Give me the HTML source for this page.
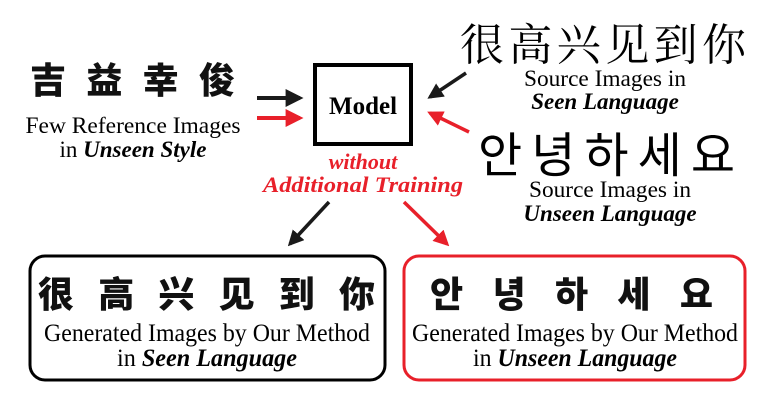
<!DOCTYPE html>
<html><head><meta charset="utf-8"><style>
html,body{margin:0;padding:0;background:#fff;width:774px;height:400px;overflow:hidden}
svg{display:block}
.t{font-family:"Liberation Serif",serif;fill:#000}
</style></head><body>
<svg width="774" height="400" viewBox="0 0 774 400" xmlns="http://www.w3.org/2000/svg">
<defs>
<marker id="ab" viewBox="0 0 10 10" refX="8" refY="5" markerWidth="4.5" markerHeight="4.5" orient="auto"><path d="M0,0L10,5L0,10z" fill="#1a1a1a"/></marker>
<marker id="ar" viewBox="0 0 10 10" refX="8" refY="5" markerWidth="4.5" markerHeight="4.5" orient="auto"><path d="M0,0L10,5L0,10z" fill="#e8202a"/></marker>
</defs>
<text x="30" y="93" textLength="205" lengthAdjust="spacing" font-family="'Noto Sans CJK SC','WenQuanYi Zen Hei',sans-serif" font-weight="900" font-size="36" fill="#111">吉益幸俊</text>
<text class="t" x="133" y="133" text-anchor="middle" font-size="23" textLength="215" lengthAdjust="spacingAndGlyphs">Few Reference Images</text>
<text class="t" x="133" y="157" text-anchor="middle" font-size="23">in <tspan font-weight="bold" font-style="italic">Unseen Style</tspan></text>
<line x1="257" y1="98" x2="300" y2="98" stroke="#1a1a1a" stroke-width="4" marker-end="url(#ab)"/>
<line x1="257" y1="118" x2="300" y2="118" stroke="#e8202a" stroke-width="4" marker-end="url(#ar)"/>
<rect x="315" y="65" width="96" height="79" fill="#fff" stroke="#000" stroke-width="4"/>
<text class="t" x="363" y="114" text-anchor="middle" font-size="25" font-weight="bold">Model</text>
<text class="t" x="363" y="169" text-anchor="middle" font-size="22" font-weight="bold" font-style="italic" style="fill:#e8202a">without</text>
<text class="t" x="363" y="192" text-anchor="middle" font-size="22" font-weight="bold" font-style="italic" style="fill:#e8202a" textLength="200" lengthAdjust="spacingAndGlyphs">Additional Training</text>
<line x1="466" y1="73" x2="430" y2="97" stroke="#1a1a1a" stroke-width="3.5" marker-end="url(#ab)"/>
<line x1="469" y1="132" x2="430" y2="113" stroke="#e8202a" stroke-width="3.5" marker-end="url(#ar)"/>
<text x="460" y="60" textLength="286" lengthAdjust="spacing" font-family="'Noto Serif CJK SC',serif" font-size="44" fill="#000">很高兴见到你</text>
<text class="t" x="605" y="86" text-anchor="middle" font-size="23" textLength="162" lengthAdjust="spacingAndGlyphs">Source Images in</text>
<text class="t" x="605" y="109" text-anchor="middle" font-size="23" font-weight="bold" font-style="italic">Seen Language</text>
<text x="478" y="172" textLength="257" lengthAdjust="spacing" font-family="'Noto Sans CJK KR','NanumGothic',sans-serif" font-size="48" fill="#000">안녕하세요</text>
<text class="t" x="610" y="197" text-anchor="middle" font-size="23" textLength="162" lengthAdjust="spacingAndGlyphs">Source Images in</text>
<text class="t" x="610" y="221" text-anchor="middle" font-size="23" font-weight="bold" font-style="italic">Unseen Language</text>
<line x1="329" y1="202" x2="290" y2="244" stroke="#1a1a1a" stroke-width="3.5" marker-end="url(#ab)"/>
<line x1="404" y1="202" x2="447" y2="244" stroke="#e8202a" stroke-width="3.5" marker-end="url(#ar)"/>
<rect x="30" y="256" width="355" height="124" rx="15" fill="#fff" stroke="#000" stroke-width="3"/>
<rect x="404" y="256" width="341" height="124" rx="15" fill="#fff" stroke="#e8202a" stroke-width="3"/>
<text x="38" y="307" textLength="337" lengthAdjust="spacing" font-family="'Noto Sans CJK SC','WenQuanYi Zen Hei',sans-serif" font-weight="900" font-size="36" fill="#111">很高兴见到你</text>
<text x="430" y="307" textLength="283" lengthAdjust="spacing" font-family="'Noto Sans CJK KR','NanumGothic',sans-serif" font-weight="900" font-size="36" fill="#111">안녕하세요</text>
<text class="t" x="207" y="341" text-anchor="middle" font-size="25" textLength="326" lengthAdjust="spacingAndGlyphs">Generated Images by Our Method</text>
<text class="t" x="207" y="366" text-anchor="middle" font-size="25" textLength="180" lengthAdjust="spacingAndGlyphs">in <tspan font-weight="bold" font-style="italic">Seen Language</tspan></text>
<text class="t" x="575" y="341" text-anchor="middle" font-size="25" textLength="326" lengthAdjust="spacingAndGlyphs">Generated Images by Our Method</text>
<text class="t" x="575" y="366" text-anchor="middle" font-size="25" textLength="204" lengthAdjust="spacingAndGlyphs">in <tspan font-weight="bold" font-style="italic">Unseen Language</tspan></text>
</svg>
</body></html>
